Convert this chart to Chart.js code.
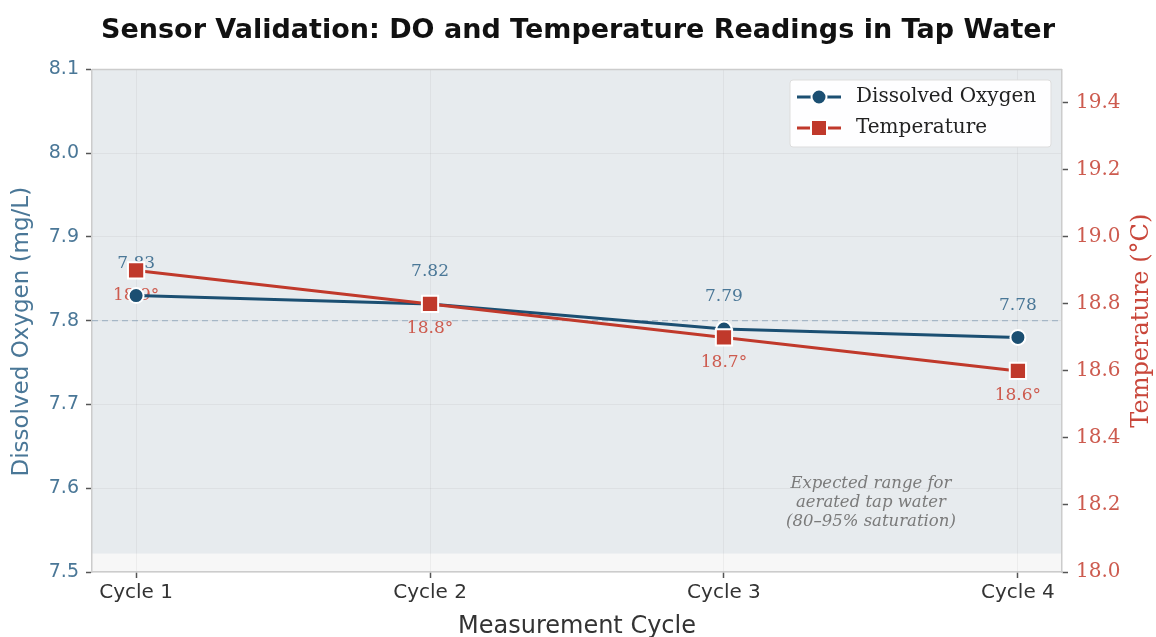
<!DOCTYPE html>
<html>
<head>
<meta charset="utf-8">
<script src="https://cdn.jsdelivr.net/npm/chart.js@4.4.1/dist/chart.umd.min.js"></script>
<style>
  body { margin: 0; background: #fff; }
  #wrap { width: 1156px; height: 637px; }
</style>
</head>
<body>
<div id="wrap"><canvas id="chart"></canvas></div>
<script>
const cycles = ['Cycle 1', 'Cycle 2', 'Cycle 3', 'Cycle 4'];
const doValues = [7.83, 7.82, 7.79, 7.78];
const tempValues = [18.9, 18.8, 18.7, 18.6];
const doTicks = [7.5, 7.6, 7.7, 7.8, 7.9, 8.0, 8.1];
const tempTicks = [18.0, 18.2, 18.4, 18.6, 18.8, 19.0, 19.2, 19.4];
const expectedBand = [7.522, 8.1];
const refLevel = 7.8;
const noteLines = ['Expected range for', 'aerated tap water', '(80\u201395% saturation)'];
const notePos = [2.5, 7.58];

const blue = '#1b4f72';
const red = '#c0392b';
const sans = "'DejaVu Sans', sans-serif";
const serif = "'DejaVu Serif', serif";

function fixedTicks(list) {
    return scale => { scale.ticks = list.map(v => ({value: v})); };
}

function sideTitle(ctx, text, x, y, font, color) {
    ctx.save();
    ctx.translate(x, y);
    ctx.rotate(-Math.PI / 2);
    ctx.font = font;
    ctx.fillStyle = color;
    ctx.textAlign = 'center';
    ctx.textBaseline = 'middle';
    ctx.fillText(text, 0, 0);
    ctx.restore();
}

const decor = {
    id: 'decor',
    beforeDraw(chart) {
        const {ctx, chartArea: a, scales: {y}} = chart;
        ctx.save();
        ctx.fillStyle = '#f7f7f7';
        ctx.fillRect(a.left, a.top, a.width, a.height);
        const t = Math.max(a.top, y.getPixelForValue(expectedBand[1]));
        const b = y.getPixelForValue(expectedBand[0]);
        ctx.fillStyle = '#e7ebee';
        ctx.fillRect(a.left, t, a.width, b - t);
        ctx.restore();
    },
    beforeDatasetsDraw(chart) {
        const {ctx, chartArea: a, scales: {x, y}} = chart;
        ctx.save();
        // reference line
        const ry = y.getPixelForValue(refLevel);
        ctx.strokeStyle = 'rgba(120,150,175,0.55)';
        ctx.lineWidth = 1.3;
        ctx.setLineDash([6, 4]);
        ctx.beginPath();
        ctx.moveTo(a.left, ry);
        ctx.lineTo(a.right, ry);
        ctx.stroke();
        ctx.setLineDash([]);

        // value labels
        ctx.font = '17px ' + serif;
        ctx.textAlign = 'center';
        ctx.textBaseline = 'middle';
        const doMeta = chart.getDatasetMeta(0);
        const tMeta = chart.getDatasetMeta(1);
        ctx.fillStyle = '#4a7797';
        doMeta.data.forEach((p, i) => ctx.fillText(doValues[i].toFixed(2), p.x, p.y - 32));
        ctx.fillStyle = '#cd5b4f';
        tMeta.data.forEach((p, i) => ctx.fillText(tempValues[i].toFixed(1) + '\u00b0', p.x, p.y + 25));

        // note text
        ctx.font = 'italic 16.5px ' + serif;
        ctx.fillStyle = '#7a7a7a';
        const nx = x.getPixelForValue(notePos[0]);
        const ny = y.getPixelForValue(notePos[1]);
        noteLines.forEach((s, i) => ctx.fillText(s, nx, ny - 2 + (i - 1) * 19));
        ctx.restore();
    },
    afterDraw(chart) {
        const {ctx, chartArea: a} = chart;
        ctx.save();
        // top spine
        ctx.strokeStyle = '#cccccc';
        ctx.lineWidth = 1.5;
        ctx.beginPath();
        ctx.moveTo(a.left, a.top);
        ctx.lineTo(a.right, a.top);
        ctx.stroke();
        ctx.restore();

        // axis titles, reading bottom to top
        const mid = (a.top + a.bottom) / 2;
        sideTitle(ctx, 'Dissolved Oxygen (mg/L)', 22, mid + 11, '23px ' + sans, '#4a7797');
        sideTitle(ctx, 'Temperature (\u00b0C)', 1142, mid, '24px ' + serif, '#c9473b');

        // legend
        ctx.save();
        const lx = 790, ly = 80, lw = 261, lh = 67;
        ctx.fillStyle = 'rgba(255,255,255,0.95)';
        ctx.strokeStyle = '#dddddd';
        ctx.lineWidth = 1;
        ctx.beginPath();
        ctx.roundRect(lx, ly, lw, lh, 3);
        ctx.fill();
        ctx.stroke();
        chart.data.datasets.forEach((ds, i) => {
            const cy = ly + 17 + i * 31;
            ctx.strokeStyle = ds.borderColor;
            ctx.lineWidth = 3;
            ctx.beginPath();
            ctx.moveTo(797, cy);
            ctx.lineTo(841, cy);
            ctx.stroke();
            ctx.fillStyle = ds.backgroundColor;
            ctx.strokeStyle = '#ffffff';
            ctx.lineWidth = 2;
            ctx.beginPath();
            if (ds.pointStyle === 'rect') ctx.rect(811, cy - 8, 16, 16);
            else ctx.arc(819, cy, 7.5, 0, Math.PI * 2);
            ctx.fill();
            ctx.stroke();
            ctx.fillStyle = '#222222';
            ctx.font = '20px ' + serif;
            ctx.textAlign = 'left';
            ctx.textBaseline = 'middle';
            ctx.fillText(ds.label, 856, cy);
        });
        ctx.restore();
    }
};

new Chart(document.getElementById('chart'), {
    type: 'line',
    data: {
        datasets: [{
            label: 'Dissolved Oxygen',
            data: doValues.map((v, i) => ({x: i, y: v})),
            yAxisID: 'y',
            borderColor: blue,
            backgroundColor: blue,
            borderWidth: 3,
            pointStyle: 'circle',
            pointRadius: 7.5,
            pointBorderColor: '#ffffff',
            pointBorderWidth: 2,
            order: 1
        }, {
            label: 'Temperature',
            data: tempValues.map((v, i) => ({x: i, y: v})),
            yAxisID: 'y2',
            borderColor: red,
            backgroundColor: red,
            borderWidth: 3,
            pointStyle: 'rect',
            pointRadius: 11.5,
            pointBorderColor: '#ffffff',
            pointBorderWidth: 2,
            order: 0
        }]
    },
    options: {
        responsive: true,
        maintainAspectRatio: false,
        animation: false,
        devicePixelRatio: 1,
        layout: {padding: 0},
        plugins: {
            legend: {display: false},
            tooltip: {enabled: false},
            title: {
                display: true,
                text: 'Sensor Validation: DO and Temperature Readings in Tap Water',
                color: '#111111',
                font: {family: sans, size: 27, weight: 'bold'},
                padding: {top: 15, bottom: 22}
            }
        },
        scales: {
            x: {
                type: 'linear',
                min: -0.15,
                max: 3.15,
                afterBuildTicks: fixedTicks(cycles.map((c, i) => i)),
                afterFit: s => { s.height = 65; },
                ticks: {
                    callback: v => cycles[v],
                    color: '#333333',
                    font: {family: sans, size: 20},
                    padding: 3,
                    maxRotation: 0
                },
                grid: {color: 'rgba(0,0,0,0.045)', tickColor: '#555555', tickLength: 6, tickWidth: 1.5},
                border: {color: '#cccccc', width: 1.5},
                title: {
                    display: true,
                    text: 'Measurement Cycle',
                    color: '#333333',
                    font: {family: sans, size: 24},
                    padding: {top: 0, bottom: -4}
                }
            },
            y: {
                type: 'linear',
                position: 'left',
                min: 7.5,
                max: 8.1,
                afterBuildTicks: fixedTicks(doTicks),
                afterFit: s => { s.width = 92; },
                ticks: {
                    callback: v => v.toFixed(1),
                    color: '#4a7797',
                    font: {family: sans, size: 19},
                    padding: 7
                },
                grid: {color: 'rgba(0,0,0,0.045)', tickColor: '#555555', tickLength: 6, tickWidth: 1.5},
                border: {color: '#cccccc', width: 1.5}
            },
            y2: {
                type: 'linear',
                position: 'right',
                min: 18.0,
                max: 19.5,
                afterBuildTicks: fixedTicks(tempTicks),
                afterFit: s => { s.width = 94; },
                ticks: {
                    callback: v => v.toFixed(1),
                    color: '#cd5b4f',
                    font: {family: serif, size: 20},
                    padding: 8
                },
                grid: {drawOnChartArea: false, tickColor: '#555555', tickLength: 6, tickWidth: 1.5},
                border: {color: '#cccccc', width: 1.5}
            }
        }
    },
    plugins: [decor]
});
</script>
</body>
</html>
